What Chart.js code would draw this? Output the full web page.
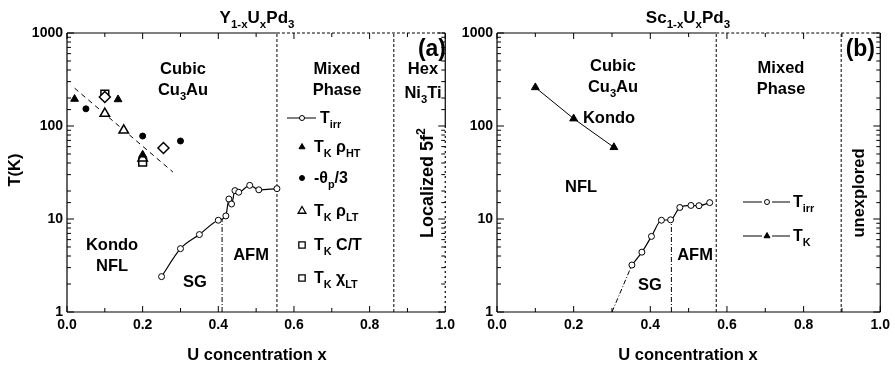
<!DOCTYPE html>
<html>
<head>
<meta charset="utf-8">
<script src="https://cdn.jsdelivr.net/npm/chart.js@4.4.0/dist/chart.umd.min.js"></script>
<style>
html, body { margin: 0; padding: 0; background: #fff; }
#wrap { position: relative; width: 895px; height: 366px; overflow: hidden; }
#left { position: absolute; left: 0; top: 0; }
#right { position: absolute; left: 450px; top: 0; }
</style>
</head>
<body>
<div id="wrap">
  <canvas id="left" width="460" height="366"></canvas>
  <canvas id="right" width="445" height="366"></canvas>
</div>
<script>
const FONT = "'Liberation Sans', Arial, sans-serif";

// panel (a): Y1-xUxPd3
const yTirrX = [0.25, 0.30, 0.35, 0.40, 0.42, 0.428, 0.435, 0.444, 0.454, 0.483, 0.507, 0.555];
const yTirrT = [2.4, 4.8, 6.8, 9.7, 10.8, 16.4, 14.5, 20.2, 19.4, 23, 20.6, 21.2];
const yRhoHtX = [0.02, 0.135, 0.2];
const yRhoHtT = [195, 193, 49];
const yThetaX = [0.05, 0.2, 0.3];
const yThetaT = [153, 78, 69];
const yRhoLtX = [0.1, 0.15, 0.2];
const yRhoLtT = [136, 90, 45];
const yCtX = [0.1, 0.2];
const yCtT = [220, 41];
const yChiX = [0.1, 0.255];
const yChiT = [205, 58];
const yFitX = [0.02, 0.28];
const yFitT = [255, 32];
const yAfmX = [0.41, 0.41];
const yAfmT = [1, 10];
const yPhaseX = [0.555, 0.864];

// panel (b): Sc1-xUxPd3
const scTkX = [0.1, 0.2, 0.305];
const scTkT = [260, 120, 59];
const scTirrX = [0.352, 0.378, 0.403, 0.429, 0.453, 0.477, 0.506, 0.527, 0.555];
const scTirrT = [3.2, 4.4, 6.5, 9.7, 9.8, 13.3, 14.0, 13.9, 15.0];
const scExtX = [0.30, 0.352];
const scExtT = [1, 3.2];
const scAfmX = [0.455, 0.455];
const scAfmT = [1, 9.8];
const scPhaseX = [0.572, 0.898];

const yTickLabels = [1, 10, 100, 1000];
const yRange = [1, 1000];

function pts(xs, ys) { return xs.map((x, i) => ({ x: x, y: ys[i] })); }

function parseRich(s) {
  const out = [];
  const re = /([_^])\{([^}]*)\}|([^_^]+)/g;
  let m;
  while ((m = re.exec(s))) {
    if (m[3]) out.push({ t: m[3], k: 0 });
    else out.push({ t: m[2], k: m[1] === '_' ? 1 : 2 });
  }
  return out;
}

function drawRich(ctx, s, x, y, size, align, rot) {
  const parts = parseRich(s);
  const small = size * 0.68;
  let w = 0;
  parts.forEach(p => {
    ctx.font = 'bold ' + (p.k ? small : size) + 'px ' + FONT;
    p.w = ctx.measureText(p.t).width;
    w += p.w;
  });
  ctx.save();
  ctx.translate(x, y);
  if (rot) ctx.rotate(rot);
  let cx = align === 'left' ? 0 : align === 'right' ? -w : -w / 2;
  ctx.textBaseline = 'middle';
  ctx.textAlign = 'left';
  ctx.fillStyle = '#000';
  parts.forEach(p => {
    ctx.font = 'bold ' + (p.k ? small : size) + 'px ' + FONT;
    const dy = p.k === 1 ? size * 0.4 : p.k === 2 ? -size * 0.38 : 0;
    ctx.fillText(p.t, cx, dy);
    cx += p.w;
  });
  ctx.restore();
}

function symbol(ctx, style, r, x, y, filled, bw) {
  ctx.save();
  ctx.fillStyle = filled ? '#000' : '#fff';
  ctx.strokeStyle = '#000';
  ctx.lineWidth = bw || 1;
  Chart.helpers.drawPoint(ctx, { pointStyle: style, radius: r, rotation: 0, borderWidth: bw || 1 }, x, y);
  ctx.restore();
}

function seg(ctx, x1, y1, x2, y2, dash) {
  ctx.save();
  ctx.setLineDash(dash || []);
  ctx.beginPath();
  ctx.moveTo(x1, y1);
  ctx.lineTo(x2, y2);
  ctx.stroke();
  ctx.restore();
}

// frame, inward ticks, labels and hand-placed legend
function phasePlugin(cfg) {
  return {
    id: 'phase',
    beforeDatasetsDraw(chart) {
      const ctx = chart.ctx;
      const { left, right, top, bottom } = chart.chartArea;
      const xs = chart.scales.x, ys = chart.scales.y;
      ctx.save();
      ctx.strokeStyle = '#000';
      ctx.lineWidth = 1.2;
      seg(ctx, left, top, left, bottom);
      seg(ctx, left, bottom, right, bottom);
      const split = xs.getPixelForValue(cfg.topSplit);
      seg(ctx, left, top, split, top);
      seg(ctx, split, top, right, top, [3, 2]);
      if (cfg.rightSplit) {
        const yy = ys.getPixelForValue(cfg.rightSplit);
        seg(ctx, right, top, right, yy);
        seg(ctx, right, yy, right, bottom, [2, 3]);
      } else {
        seg(ctx, right, top, right, bottom);
      }
      ctx.lineWidth = 1;
      xs.ticks.forEach(t => {
        const p = xs.getPixelForValue(t.value);
        const L = Math.round(t.value * 10) % 2 === 0 ? 6 : 4;
        seg(ctx, p, bottom, p, bottom - L);
        seg(ctx, p, top, p, top + L);
      });
      ys.ticks.forEach(t => {
        const p = ys.getPixelForValue(t.value);
        const L = yTickLabels.includes(t.value) ? 7 : 4;
        seg(ctx, left, p, left + L, p);
        seg(ctx, right, p, right - L, p);
      });
      ctx.restore();
    },
    afterDatasetsDraw(chart) {
      const ctx = chart.ctx;
      cfg.texts.forEach(t => drawRich(ctx, t.s, t.x, t.y, t.size || 16.5, t.align || 'center', t.rot || 0));
      ctx.save();
      ctx.strokeStyle = '#000';
      ctx.lineWidth = 1;
      cfg.legend.forEach(l => {
        if (l.line) l.line.forEach(a => seg(ctx, a[0], l.y, a[1], l.y));
        symbol(ctx, l.style, l.r, l.x, l.y, l.filled, l.bw);
        drawRich(ctx, l.s, l.tx, l.y + 1, 16, 'left', 0);
      });
      ctx.restore();
    }
  };
}

function markers(data, style, r, filled, bw) {
  return {
    data: data, showLine: false, pointStyle: style, pointRadius: r,
    pointBackgroundColor: filled ? '#000' : '#fff', pointBorderColor: '#000',
    pointBorderWidth: bw || 1, borderColor: '#000'
  };
}

function line(data, dash, width) {
  return {
    data: data, showLine: true, pointRadius: 0, borderColor: '#000',
    borderWidth: width || 1, borderDash: dash || [], fill: false
  };
}

function tirr(data) {
  return {
    data: data, showLine: true, borderColor: '#000', borderWidth: 1.2,
    pointStyle: 'circle', pointRadius: 3, pointBackgroundColor: '#fff',
    pointBorderColor: '#000', pointBorderWidth: 1, cubicInterpolationMode: 'monotone'
  };
}

function makeChart(id, datasets, yWidth, padRight, cfg) {
  return new Chart(document.getElementById(id), {
    type: 'scatter',
    data: { datasets: datasets },
    options: {
      responsive: false,
      animation: false,
      layout: { padding: { top: 33, right: padRight, left: 0, bottom: 0 } },
      plugins: { legend: { display: false }, tooltip: { enabled: false } },
      scales: {
        x: {
          type: 'linear', min: 0, max: 1,
          afterFit: s => { s.height = 54; },
          grid: { display: false, drawTicks: false },
          border: { display: false },
          ticks: {
            stepSize: 0.1, autoSkip: false, maxRotation: 0, padding: 5, color: '#000',
            font: { family: FONT, size: 14, weight: 'bold' },
            callback: v => Math.round(v * 10) % 2 === 0 ? (Math.round(v * 10) / 10).toFixed(1) : ''
          }
        },
        y: {
          type: 'logarithmic', min: yRange[0], max: yRange[1],
          afterFit: s => { s.width = yWidth; },
          grid: { display: false, drawTicks: false },
          border: { display: false },
          ticks: {
            autoSkip: false, padding: 4, color: '#000',
            font: { family: FONT, size: 14, weight: 'bold' },
            callback: v => yTickLabels.includes(v) ? String(v) : ''
          }
        }
      }
    },
    plugins: [phasePlugin(cfg)]
  });
}

makeChart('left', [
  markers(pts(yRhoHtX, yRhoHtT), 'triangle', 4.5, true),
  markers(pts(yThetaX, yThetaT), 'circle', 3, true),
  markers(pts(yChiX, yChiT), 'rectRot', 5.5, false, 1.5),
  markers(pts(yRhoLtX, yRhoLtT), 'triangle', 5.5, false, 1.5),
  markers(pts(yCtX, yCtT), 'rect', 5.5, false, 1.5),
  tirr(pts(yTirrX, yTirrT)),
  line(pts(yFitX, yFitT), [5, 4], 1),
  line(pts(yAfmX, yAfmT), [5, 2, 1, 2], 1),
  line(pts([yPhaseX[0], yPhaseX[0]], yRange), [3, 2], 1),
  line(pts([yPhaseX[1], yPhaseX[1]], yRange), [3, 2], 1)
], 67, 12, {
  topSplit: yPhaseX[0], rightSplit: 100,
  texts: [
    { s: 'Y_{1-x}U_{x}Pd_{3}', x: 257, y: 18, size: 17 },
    { s: '(a)', x: 446, y: 50, size: 23, align: 'right' },
    { s: 'Cubic', x: 183, y: 69 },
    { s: 'Cu_{3}Au', x: 183, y: 90 },
    { s: 'Mixed', x: 337, y: 69 },
    { s: 'Phase', x: 337, y: 90 },
    { s: 'Hex', x: 423, y: 69 },
    { s: 'Ni_{3}Ti', x: 423, y: 93 },
    { s: 'Localized 5f^{2}', x: 428, y: 183, size: 18, rot: -Math.PI / 2 },
    { s: 'Kondo', x: 112, y: 245 },
    { s: 'NFL', x: 112, y: 266 },
    { s: 'SG', x: 195, y: 282 },
    { s: 'AFM', x: 251, y: 255 },
    { s: 'T(K)', x: 15, y: 170, rot: -Math.PI / 2 },
    { s: 'U concentration x', x: 257, y: 355 }
  ],
  legend: [
    { style: 'circle', r: 2.5, x: 302, y: 118, filled: false, line: [[287, 316]], s: 'T_{irr}', tx: 320 },
    { style: 'triangle', r: 3.5, x: 302, y: 147, filled: true, s: 'T_{K} ρ_{HT}', tx: 314 },
    { style: 'circle', r: 2.5, x: 302, y: 178, filled: true, s: '-θ_{p}/3', tx: 314 },
    { style: 'triangle', r: 4.5, x: 302, y: 211, filled: false, bw: 1.3, s: 'T_{K} ρ_{LT}', tx: 314 },
    { style: 'rect', r: 4.5, x: 302, y: 245, filled: false, bw: 1.3, s: 'T_{K} C/T', tx: 314 },
    { style: 'rect', r: 4.5, x: 302, y: 278, filled: false, bw: 1.3, s: 'T_{K} χ_{LT}', tx: 314 }
  ]
});

makeChart('right', [
  Object.assign(markers(pts(scTkX, scTkT), 'triangle', 4.5, true), { showLine: true, borderWidth: 1 }),
  tirr(pts(scTirrX, scTirrT)),
  line(pts(scExtX, scExtT), [5, 2, 1, 2], 1),
  line(pts(scAfmX, scAfmT), [5, 2, 1, 2], 1),
  line(pts([scPhaseX[0], scPhaseX[0]], yRange), [3, 2], 1),
  line(pts([scPhaseX[1], scPhaseX[1]], yRange), [3, 2], 1)
], 47, 13, {
  topSplit: scPhaseX[0], rightSplit: null,
  texts: [
    { s: 'Sc_{1-x}U_{x}Pd_{3}', x: 238, y: 18, size: 17 },
    { s: '(b)', x: 425, y: 50, size: 23, align: 'right' },
    { s: 'Cubic', x: 163, y: 66 },
    { s: 'Cu_{3}Au', x: 163, y: 87 },
    { s: 'Kondo', x: 159, y: 118 },
    { s: 'NFL', x: 131, y: 187 },
    { s: 'Mixed', x: 331, y: 68 },
    { s: 'Phase', x: 331, y: 89 },
    { s: 'unexplored', x: 409, y: 193, rot: -Math.PI / 2 },
    { s: 'SG', x: 200, y: 285 },
    { s: 'AFM', x: 245, y: 255 },
    { s: 'U concentration x', x: 238, y: 355 }
  ],
  legend: [
    { style: 'circle', r: 2.5, x: 317, y: 202, filled: false, line: [[293, 312], [322, 340]], s: 'T_{irr}', tx: 343 },
    { style: 'triangle', r: 3.5, x: 317, y: 236, filled: true, line: [[293, 312], [322, 340]], s: 'T_{K}', tx: 343 }
  ]
});
</script>
</body>
</html>
